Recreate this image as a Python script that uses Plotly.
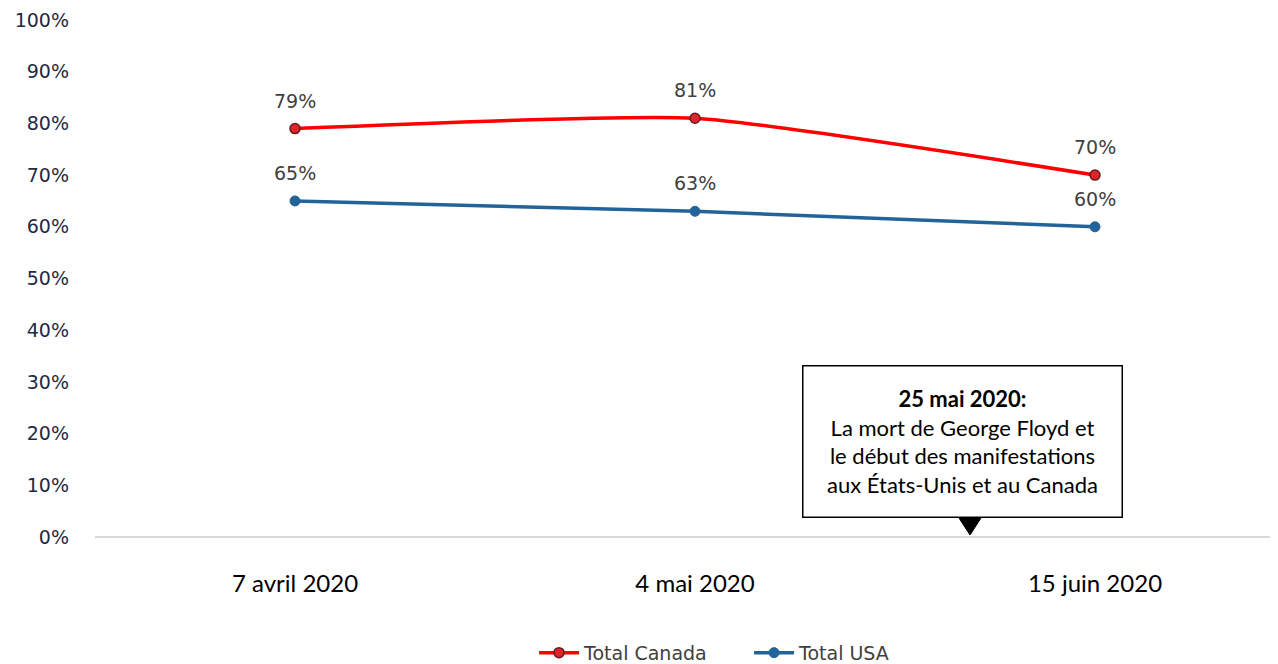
import plotly.graph_objects as go

categories = ["7 avril 2020", "4 mai 2020", "15 juin 2020"]
canada = [79, 81, 70]
usa = [65, 63, 60]
y_ticks = [0, 10, 20, 30, 40, 50, 60, 70, 80, 90, 100]
callout_title = "25 mai 2020:"
callout_lines = ["La mort de George Floyd et", "le début des manifestations", "aux États-Unis et au Canada"]
callout_x = 1.6875

xs = list(range(len(categories)))
label_font = dict(family="Verdana, DejaVu Sans, sans-serif", size=19, color="#404040")

fig = go.Figure()
fig.add_trace(go.Scatter(
    x=xs, y=canada, name="Total Canada", mode="lines+markers",
    line=dict(color="#ff0000", width=3.5, shape="spline", smoothing=0.5),
    marker=dict(size=10, color="#e0242c", line=dict(color="#6b1a1a", width=1.5)),
))
fig.add_trace(go.Scatter(
    x=xs, y=usa, name="Total USA", mode="lines+markers",
    line=dict(color="#22649a", width=3.5, shape="spline", smoothing=0.5),
    marker=dict(size=10, color="#22649a", line=dict(color="#22649a", width=1)),
))

annotations = []
for series in (canada, usa):
    for xi, v in zip(xs, series):
        annotations.append(dict(
            x=xi, y=v, xref="x", yref="y", text=f"{v}%", showarrow=False,
            yshift=28, font=label_font, xanchor="center", yanchor="middle",
        ))

annotations.append(dict(
    x=1.669, y=18.5, xref="x", yref="y", showarrow=False,
    text="<b>" + callout_title + "</b><br>" + "<br>".join(callout_lines),
    font=dict(family="Lato, Carlito, Calibri, sans-serif", size=22, color="#000000"),
    align="center", valign="middle", width=318, height=150,
    bgcolor="#ffffff", bordercolor="#000000", borderwidth=1.5, borderpad=0,
    xanchor="center", yanchor="middle",
))

fig.add_shape(
    type="path", xref="x", yref="y",
    xsizemode="pixel", ysizemode="pixel",
    xanchor=callout_x, yanchor=0,
    path="M -11,19 L 11,19 L 0,2 Z",
    fillcolor="#000000", line=dict(color="#000000", width=1),
)

fig.update_layout(
    width=1270, height=656,
    margin=dict(l=87, r=5, t=12, b=127, autoexpand=False),
    paper_bgcolor="#ffffff", plot_bgcolor="#ffffff",
    annotations=annotations,
    showlegend=True,
    legend=dict(
        orientation="h", x=0.3727, y=-0.224, xanchor="left", yanchor="middle",
        font=dict(family="Verdana, DejaVu Sans, sans-serif", size=19, color="#404040"),
        itemwidth=40, traceorder="normal", entrywidth=160, entrywidthmode="pixels",
    ),
    xaxis=dict(
        range=[-0.5, 2.445], tickvals=xs, ticktext=categories, automargin=False,
        showgrid=False, zeroline=False, showline=False, ticks="",
        tickfont=dict(family="Lato, Carlito, Calibri, sans-serif", size=24, color="#000000"),
        ticklabelstandoff=30,
    ),
    yaxis=dict(
        range=[0, 100], tickvals=y_ticks, ticktext=[f"{t}%" for t in y_ticks],
        automargin=False,
        showgrid=False, zeroline=True, zerolinecolor="#d9d9d9", zerolinewidth=1.5,
        showline=False, ticks="",
        tickfont=dict(family="Verdana, DejaVu Sans, sans-serif", size=19, color="#1f2a44"),
        ticklabelstandoff=25,
    ),
)

fig.write_html("out.html")
